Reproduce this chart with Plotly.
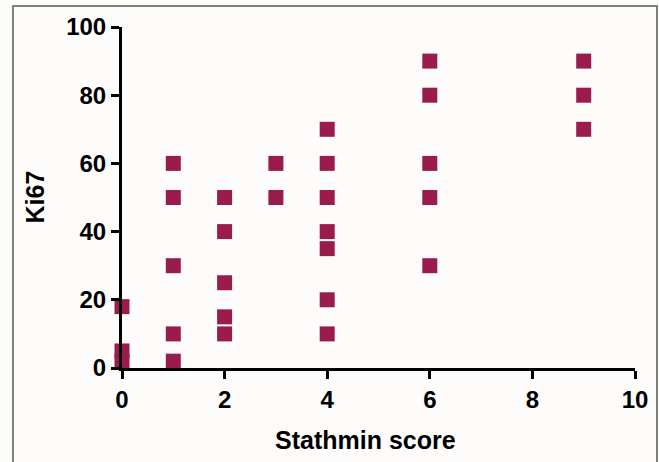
import plotly.graph_objects as go

stathmin = [0, 0, 0,
            1, 1, 1, 1, 1,
            2, 2, 2, 2, 2,
            3, 3,
            4, 4, 4, 4, 4, 4, 4,
            6, 6, 6, 6, 6,
            9, 9, 9]
ki67 = [18, 5, 2,
        60, 50, 30, 10, 2,
        50, 40, 25, 15, 10,
        60, 50,
        70, 60, 50, 40, 35, 20, 10,
        90, 80, 60, 50, 30,
        90, 80, 70]

x_ticks = [0, 2, 4, 6, 8, 10]
y_ticks = [0, 20, 40, 60, 80, 100]

color = "#991c4d"
font_family = "Liberation Sans, Arial, sans-serif"

fig = go.Figure()
fig.add_trace(go.Scatter(
    x=stathmin, y=ki67, mode="markers",
    marker=dict(symbol="square", size=15, color=color, line=dict(width=0)),
    cliponaxis=False, showlegend=False,
))

axis_common = dict(
    showgrid=False, zeroline=False, showline=True, linecolor="black", linewidth=3,
    ticks="outside", ticklen=8, tickwidth=3, tickcolor="black",
    tickfont=dict(family=font_family, size=24, color="black", weight="bold"),
)

fig.update_layout(
    width=659, height=462,
    margin=dict(l=122, r=24, t=27, b=94),
    paper_bgcolor="#fdfcfb", plot_bgcolor="#fdfcfb",
    xaxis=dict(range=[0, 10], tickvals=x_ticks, **axis_common),
    yaxis=dict(range=[0, 100], tickvals=y_ticks, **axis_common),
    shapes=[dict(type="rect", xref="paper", yref="paper",
                 x0=(13 - 122) / 513, x1=(657 - 122) / 513,
                 y0=(368 - 480) / 341, y1=(368 - 6) / 341,
                 line=dict(color="#555555", width=1.5), fillcolor="rgba(0,0,0,0)",
                 layer="below")],
    annotations=[
        dict(text="Stathmin score", xref="paper", yref="paper",
             x=(365 - 122) / 513, y=(368 - 440) / 341, showarrow=False,
             xanchor="center", yanchor="middle",
             font=dict(family=font_family, size=25, color="black", weight="bold")),
        dict(text="Ki67", xref="paper", yref="paper",
             x=(34 - 122) / 513, y=0.5, showarrow=False, textangle=-90,
             xanchor="center", yanchor="middle",
             font=dict(family=font_family, size=25, color="black", weight="bold")),
    ],
)

fig.write_html("out.html", config={"displayModeBar": False},
               post_script="document.body.style.margin='0';document.body.style.padding='0';")
